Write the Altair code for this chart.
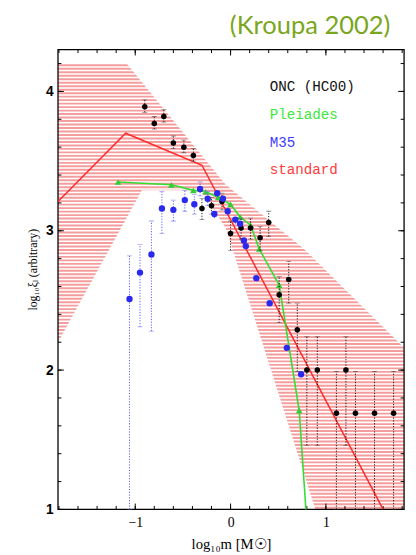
import altair as alt
import pandas as pd
import numpy as np

W, H = 353, 469

# ---------------- data ----------------
# Standard IMF (red line)
std_x = [-1.81, -1.10, -0.30, 1.60]
std_y = [3.21, 3.70, 3.47, 1.00]

# Uncertainty band of the standard IMF (hatched region)
band_up_x = [-1.81, -1.09, -0.05, 0.77, 1.82]
band_up_y = [4.20, 4.20, 3.33, 2.87, 2.16]
band_lo_x = [-1.81, -0.93, -0.32, -0.05, 0.89, 1.82]
band_lo_y = [2.20, 3.29, 3.29, 3.02, 1.00, 1.00]

# ONC (HC00), black points with error bars
onc_x = [-0.90, -0.80, -0.70, -0.60, -0.49, -0.39, -0.30, -0.20, -0.09, 0.00,
         0.11, 0.21, 0.31, 0.40, 0.51, 0.61, 0.70, 0.80, 0.91, 1.11,
         1.21, 1.31, 1.51, 1.71]
onc_y = [3.89, 3.77, 3.82, 3.63, 3.60, 3.54, 3.16, 3.18, 3.21, 2.98,
         3.02, 3.02, 2.95, 3.06, 2.54, 2.65, 2.29, 2.00, 2.00, 1.69,
         2.00, 1.69, 1.69, 1.69]
onc_lo = [3.85, 3.73, 3.78, 3.59, 3.56, 3.50, 3.08, 3.12, 3.15, 2.86,
          2.94, 2.94, 2.86, 2.96, 2.34, 2.48, 1.99, 1.46, 1.46, 1.00,
          1.46, 1.00, 1.00, 1.00]
onc_hi = [3.94, 3.82, 3.87, 3.68, 3.65, 3.59, 3.23, 3.24, 3.27, 3.07,
          3.09, 3.09, 3.03, 3.14, 2.67, 2.78, 2.48, 2.24, 2.24, 1.99,
          2.24, 1.99, 1.99, 1.99]

# Pleiades (green triangles + line)
ple_x = [-1.18, -0.62, -0.39, -0.26, -0.13, 0.00, 0.10, 0.21, 0.30, 0.51, 0.72, 0.80]
ple_y = [3.35, 3.33, 3.29, 3.28, 3.24, 3.19, 3.10, 3.04, 2.87, 2.61, 1.71, 0.90]

# M35 (blue points with error bars)
m35_x = [-1.06, -0.95, -0.83, -0.72, -0.60, -0.48, -0.38, -0.32, -0.24, -0.17,
         -0.14, -0.08, -0.03, 0.05, 0.10, 0.14, 0.16, 0.27, 0.41, 0.59, 0.74]
m35_y = [2.51, 2.70, 2.83, 3.16, 3.15, 3.22, 3.19, 3.30, 3.23, 3.12,
         3.27, 3.23, 3.14, 3.08, 3.05, 2.93, 2.89, 2.66, 2.48, 2.16, 1.97]
m35_lo = [1.00, 2.31, 2.28, 2.98, 3.07, 3.14, 3.12, 3.25, 3.18, 3.09,
          3.24, 3.20, 3.11, 3.05, 3.02, 2.93, 2.89, 2.66, 2.48, 2.16, 1.97]
m35_hi = [2.82, 2.90, 3.07, 3.28, 3.22, 3.29, 3.26, 3.35, 3.28, 3.15,
          3.30, 3.26, 3.17, 3.11, 3.08, 2.93, 2.89, 2.66, 2.48, 2.16, 1.97]

legend_labels = ["ONC (HC00)", "Pleiades", "M35", "standard"]
legend_colors = ["#111111", "#3be83b", "#3b3bff", "#ff3b3b"]

x_major = [-1, 0, 1]
x_minor = [-1.8, -1.6, -1.4, -1.2, -1.0, -0.8, -0.6, -0.4, -0.2, 0.0,
           0.2, 0.4, 0.6, 0.8, 1.0, 1.2, 1.4, 1.6, 1.8]
y_major = [1, 2, 3, 4]
y_minor = [1.0, 1.2, 1.4, 1.6, 1.8, 2.0, 2.2, 2.4, 2.6, 2.8, 3.0,
           3.2, 3.4, 3.6, 3.8, 4.0, 4.2]

# ---------------- frames ----------------
up_df = pd.DataFrame({"x": band_up_x, "y": band_up_y, "b": 1.0})
lo_df = pd.DataFrame({"x": band_lo_x, "y": band_lo_y, "b": 1.0})
std_df = pd.DataFrame({"x": std_x, "y": std_y})
onc_df = pd.DataFrame({"x": onc_x, "y": onc_y, "lo": onc_lo, "hi": onc_hi})
ple_df = pd.DataFrame({"x": ple_x, "y": ple_y})
m35_df = pd.DataFrame({"x": m35_x, "y": m35_y, "lo": m35_lo, "hi": m35_hi})
onc_caps = pd.DataFrame({"x": onc_x * 2, "y": onc_lo + onc_hi})
m35_caps = pd.DataFrame({"x": m35_x[:9] * 2, "y": m35_lo[:9] + m35_hi[:9]})
stripe_df = pd.DataFrame({"y": np.round(np.arange(1.0, 4.3, 0.025), 4)})
leg_df = pd.DataFrame({"t": legend_labels, "c": legend_colors,
                       "x": [0.41] * 4, "y": [4.033, 3.829, 3.632, 3.435]})

xs = alt.Scale(domain=[-1.81, 1.82], nice=False, zero=False)
ys = alt.Scale(domain=[1.0, 4.3], nice=False, zero=False)

x_lab_axis = alt.Axis(orient="bottom", values=x_major, ticks=False, domain=False,
                      grid=False, format="d", labelFont="Liberation Serif",
                      labelFontSize=14, labelColor="black", labelPadding=6,
                      title="log\u2081\u2080m  [M\u2609]", titleFont="Liberation Serif",
                      titleFontSize=15, titleFontWeight="normal", titleColor="black",
                      titleY=35, titleBaseline="middle")
y_lab_axis = alt.Axis(orient="left", values=y_major, ticks=False, domain=False,
                      grid=False, format="d", labelFont="Liberation Sans",
                      labelFontSize=14, labelFontWeight="bold", labelColor="black",
                      labelPadding=5,
                      title="log\u2081\u2080\u03be\u2097 (arbitrary)",
                      titleFont="Liberation Serif", titleFontSize=12,
                      titleFontWeight="normal", titleColor="black",
                      titleX=-26, titleY=224, titleAngle=270,
                      titleAlign="center", titleBaseline="middle")

# pink band (from upper boundary down)
band = alt.Chart(up_df).mark_area(color="#f59c9c", opacity=1).encode(
    x=alt.X("x:Q", scale=xs, axis=x_lab_axis),
    y=alt.Y("y:Q", scale=ys, axis=y_lab_axis),
    y2="b:Q",
)
# white below lower boundary
band_lo = alt.Chart(lo_df).mark_area(color="white", opacity=1).encode(
    x=alt.X("x:Q", scale=xs, axis=None),
    y=alt.Y("y:Q", scale=ys, axis=None),
    y2="b:Q",
)
# white stripes -> horizontal hatching
stripes = alt.Chart(stripe_df).mark_rule(color="white", strokeWidth=1.6).encode(
    y=alt.Y("y:Q", scale=ys, axis=None),
)


def x_ticks(values, length, top):
    y0, y1 = (0, length) if top else (H, H - length)
    return alt.Chart(pd.DataFrame({"v": values})).mark_rule(
        color="black", strokeWidth=1).encode(
        x=alt.X("v:Q", scale=xs, axis=None), y=alt.value(y0), y2=alt.value(y1))


def y_ticks(values, length, right):
    x0, x1 = (W, W - length) if right else (0, length)
    return alt.Chart(pd.DataFrame({"v": values})).mark_rule(
        color="black", strokeWidth=1).encode(
        y=alt.Y("v:Q", scale=ys, axis=None), x=alt.value(x0), x2=alt.value(x1))


ticks = [x_ticks(x_major, 6, False), x_ticks(x_minor, 3.5, False),
         x_ticks(x_major, 6, True), x_ticks(x_minor, 3.5, True),
         y_ticks(y_major, 6, False), y_ticks(y_minor, 3.5, False),
         y_ticks(y_major, 6, True), y_ticks(y_minor, 3.5, True)]

frame = alt.Chart(pd.DataFrame({"a": [0]})).mark_rect(
    fillOpacity=0, stroke="black", strokeWidth=1.3).encode(
    x=alt.value(0), x2=alt.value(W), y=alt.value(0), y2=alt.value(H))

std_line = alt.Chart(std_df).mark_line(color="#ff2a2a", strokeWidth=1.5, clip=True).encode(
    x=alt.X("x:Q", scale=xs, axis=None),
    y=alt.Y("y:Q", scale=ys, axis=None),
)
ple_line = alt.Chart(ple_df).mark_line(color="#33dd33", strokeWidth=1.6, clip=True).encode(
    x=alt.X("x:Q", scale=xs, axis=None),
    y=alt.Y("y:Q", scale=ys, axis=None),
)
ple_pts = alt.Chart(ple_df).mark_point(shape="triangle-up", filled=True, size=45,
                                       color="#33cc33", opacity=1, clip=True).encode(
    x=alt.X("x:Q", scale=xs, axis=None),
    y=alt.Y("y:Q", scale=ys, axis=None),
)
onc_bars = alt.Chart(onc_df).mark_rule(color="black", strokeDash=[1.2, 1.6],
                                       strokeWidth=0.9, clip=True).encode(
    x=alt.X("x:Q", scale=xs, axis=None),
    y=alt.Y("lo:Q", scale=ys, axis=None),
    y2="hi:Q",
)
onc_cap = alt.Chart(onc_caps).mark_tick(orient="horizontal", size=5, thickness=0.8,
                                        color="#555555", clip=True).encode(
    x=alt.X("x:Q", scale=xs, axis=None),
    y=alt.Y("y:Q", scale=ys, axis=None),
)
m35_bars = alt.Chart(m35_df).mark_rule(color="#5a5aff", strokeDash=[1.2, 1.6],
                                       strokeWidth=1, clip=True).encode(
    x=alt.X("x:Q", scale=xs, axis=None),
    y=alt.Y("lo:Q", scale=ys, axis=None),
    y2="hi:Q",
)
m35_cap = alt.Chart(m35_caps).mark_tick(orient="horizontal", size=5, thickness=0.8,
                                        color="#7a7aff", clip=True).encode(
    x=alt.X("x:Q", scale=xs, axis=None),
    y=alt.Y("y:Q", scale=ys, axis=None),
)
onc_pts = alt.Chart(onc_df).mark_circle(size=32, color="black", opacity=1).encode(
    x=alt.X("x:Q", scale=xs, axis=None),
    y=alt.Y("y:Q", scale=ys, axis=None),
)
m35_pts = alt.Chart(m35_df).mark_circle(size=42, color="#2a2aee", opacity=1).encode(
    x=alt.X("x:Q", scale=xs, axis=None),
    y=alt.Y("y:Q", scale=ys, axis=None),
)
legend = alt.Chart(leg_df).mark_text(font="Liberation Mono", fontSize=14.5, align="left",
                                     baseline="middle").encode(
    x=alt.X("x:Q", scale=xs, axis=None),
    y=alt.Y("y:Q", scale=ys, axis=None),
    text="t:N",
    color=alt.Color("c:N", scale=None),
)
title = alt.Chart(pd.DataFrame({"t": ["(Kroupa 2002)"]})).mark_text(
    font="Lato", fontSize=26, color="#7aa61e", align="right", baseline="alphabetic"
).encode(x=alt.value(339), y=alt.value(-16), text="t:N")

chart = alt.layer(
    band, band_lo, stripes, *ticks, frame, std_line, ple_line, ple_pts, onc_bars,
    onc_cap, m35_bars, m35_cap, onc_pts, m35_pts, legend, title
).resolve_axis(x="independent", y="independent").properties(
    width=W, height=H,
    padding={"left": 51, "top": 37, "right": 4, "bottom": 40},
    autosize=alt.AutoSizeParams(type="none"),
).configure_view(stroke="transparent")

chart.save("out.html", embed_options={"renderer": "svg", "actions": False})
